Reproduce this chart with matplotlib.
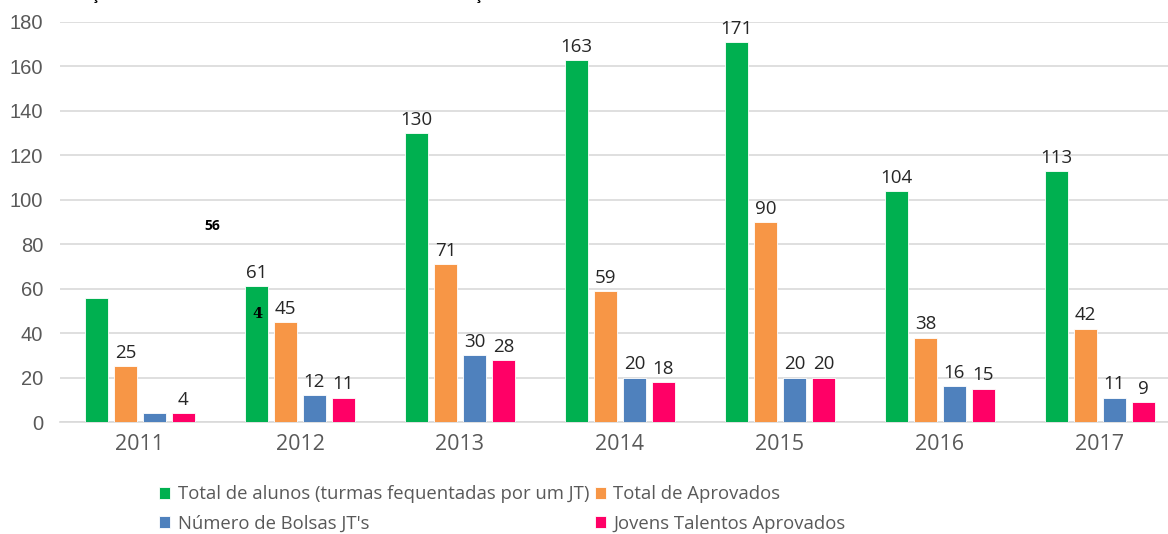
import matplotlib.pyplot as plt
import numpy as np

# data
anos = ["2011", "2012", "2013", "2014", "2015", "2016", "2017"]
total_alunos = [56, 61, 130, 163, 171, 104, 113]
total_aprovados = [25, 45, 71, 59, 90, 38, 42]
bolsas_jt = [4, 12, 30, 20, 20, 16, 11]
jovens_aprovados = [4, 11, 28, 18, 20, 15, 9]

series = [
    ("Total de alunos (turmas fequentadas por um JT)", total_alunos, "#00B050"),
    ("Total de Aprovados", total_aprovados, "#F79646"),
    ("Número de Bolsas JT's", bolsas_jt, "#4F81BD"),
    ("Jovens Talentos Aprovados", jovens_aprovados, "#FF0066"),
]

W, H = 1168, 534
fig = plt.figure(figsize=(W / 100, H / 100), dpi=100)
ax = fig.add_axes([60 / W, 112 / H, 1120 / W, 400 / H])

x = np.arange(len(anos))
pitch = 0.181
width = 0.144
handles = {}
for i, (nome, vals, cor) in enumerate(series):
    pos = x + (i - 1.5) * pitch
    bars = ax.bar(pos, vals, width, color=cor, edgecolor="white", linewidth=0.6, zorder=3, label=nome)
    handles[nome] = bars
    for j, (p, v) in enumerate(zip(pos, vals)):
        # two labels of 2011 are displaced in the original chart
        if j == 0 and i in (0, 2):
            continue
        ax.annotate(f"{v}", (p, v), xytext=(0, 3), textcoords="offset points",
                    ha="center", va="bottom", fontsize=13.5, color="#262626",
                    family="Open Sans", zorder=4)

# displaced labels (as in the reference)
ax.annotate(f"{total_alunos[0]}", (x[0] - 1.5 * pitch, total_alunos[0]), xytext=(83.5, 51.5),
            textcoords="offset points", ha="center", va="center", fontsize=10,
            fontweight="bold", color="black", family="Open Sans", annotation_clip=False)
ax.annotate(f"{bolsas_jt[0]}", (x[0] + 0.5 * pitch, bolsas_jt[0]), xytext=(74, 71),
            textcoords="offset points", ha="center", va="center", fontsize=10.5,
            fontweight="bold", color="black", family="DejaVu Serif", annotation_clip=False)

ax.set_xlim(-0.5, 6.5)
ax.set_ylim(0, 180)
ax.set_yticks(np.arange(0, 181, 20))
ax.set_xticks(x)
ax.set_xticklabels(anos)
ax.grid(axis="y", color="#D9D9D9", linewidth=1.2, zorder=0)
for s in ["top", "right", "left"]:
    ax.spines[s].set_visible(False)
ax.spines["bottom"].set_color("#D9D9D9")
ax.spines["bottom"].set_linewidth(1.2)
ax.tick_params(axis="both", length=0, colors="#595959")
ax.tick_params(axis="y", labelsize=14.5, pad=12)
ax.tick_params(axis="x", labelsize=15.5, pad=9)
for t in ax.get_yticklabels():
    t.set_family("Liberation Sans")
for t in ax.get_xticklabels():
    t.set_family("Open Sans")

order = [series[0][0], series[2][0], series[1][0], series[3][0]]
leg = fig.legend([handles[n] for n in order], order, ncol=2, loc="upper left",
                 bbox_to_anchor=(150 / W, 1 - 476 / H), frameon=False,
                 prop={"family": "Open Sans", "size": 13.3}, handlelength=0.6,
                 handleheight=0.6, handletextpad=0.4, columnspacing=0.3,
                 labelspacing=0.62, borderpad=0)
for t in leg.get_texts():
    t.set_color("#595959")

# cut-off title fragments at the top edge
fig.text(95 / W, 1.0, "ç", fontsize=10, fontweight="bold", ha="center", va="baseline", family="Open Sans")
fig.text(478 / W, 1.0, "ç", fontsize=10, fontweight="bold", ha="center", va="baseline", family="Open Sans")

fig.savefig("out.png", dpi=100)
